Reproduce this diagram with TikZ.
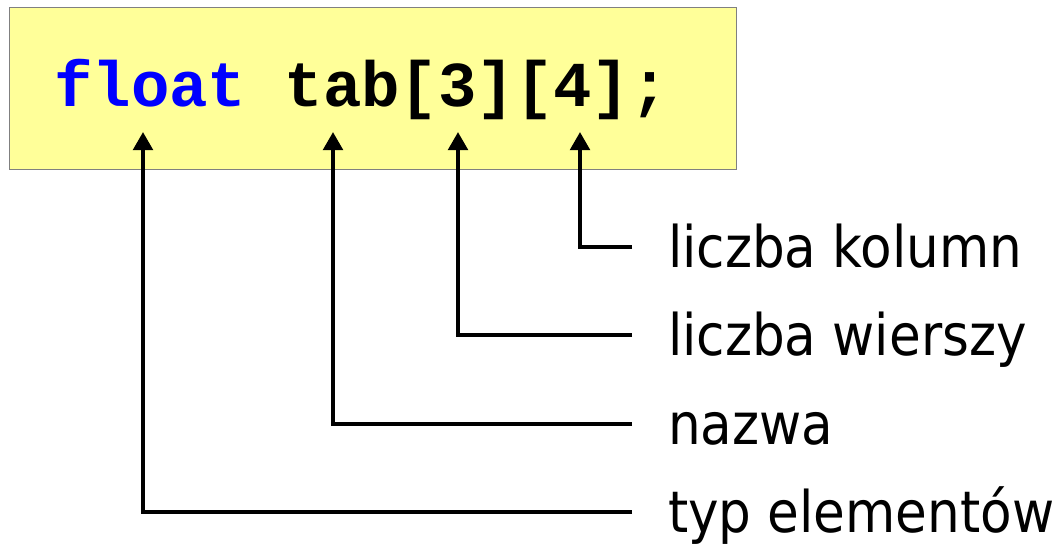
\documentclass[tikz,border=0pt]{standalone}
\usepackage{fontspec}
\usetikzlibrary{arrows.meta}
\newfontfamily\codefont{Liberation Mono}
\newfontfamily\labelfont{DejaVu Sans Condensed}
\definecolor{boxyellow}{HTML}{FFFF99}
\definecolor{boxgray}{HTML}{808080}
\definecolor{keyblue}{HTML}{0000FF}

\tikzset{
  codebox/.style={draw=boxgray, line width=0.75pt, fill=boxyellow, inner sep=0pt, outer sep=0pt},
  codetext/.style={anchor=base west, inner sep=0pt, font=\codefont\bfseries\fontsize{48}{48}\selectfont},
  partlabel/.style={anchor=west, inner xsep=27pt, inner ysep=0pt, outer sep=0pt,
    text height=31pt, text depth=0pt, font=\labelfont\fontsize{43}{43}\selectfont},
  pointer/.style={line width=3pt, -{Triangle[width=14.5pt, length=13.5pt]}}
}

\begin{document}
\begin{tikzpicture}[x=0.75pt, y=-0.75pt]

\useasboundingbox (0,0) rectangle (1056,547);

% Draw the declaration box
\node [codebox, minimum width=545.6pt, minimum height=121.5pt] (box) at (373.25,88) {};
\node [codetext] (code) at (54,106) {\textcolor{keyblue}{float} tab[3][4];};

% Tips of the arrows
\coordinate (tType) at (143,132);
\coordinate (tName) at (333,132);
\coordinate (tRows) at (458,132);
\coordinate (tCols) at (580,132);

% Labels
\node [partlabel] (cols) at (632,247) {liczba kolumn};
\node [partlabel] (rows) at (632,335) {liczba wierszy};
\node [partlabel] (name) at (632,424) {nazwa};
\node [partlabel] (type) at (632,512) {typ elementów};

% Draw the pointers
\draw [pointer] (cols.west) -| (tCols);
\draw [pointer] (rows.west) -| (tRows);
\draw [pointer] (name.west) -| (tName);
\draw [pointer] (type.west) -| (tType);

\end{tikzpicture}
\end{document}
